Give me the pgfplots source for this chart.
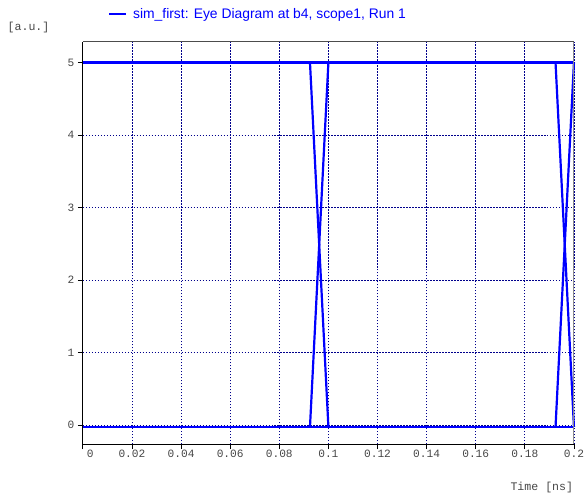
\documentclass[border=0pt]{standalone}
\usepackage{fontspec}
\setmainfont{Liberation Sans}
\setmonofont{Liberation Mono}
\usepackage{pgfplots}
\pgfplotsset{compat=1.18}
\definecolor{eyeblue}{RGB}{0,0,255}
\definecolor{gridnavy}{RGB}{0,0,140}
\definecolor{ticktext}{RGB}{70,70,70}
\begin{document}
\begin{tikzpicture}
\begin{axis}[
  at={(0pt,0pt)}, anchor=south west,
  scale only axis, width=492pt, height=403pt,
  xmin=0, xmax=0.2, ymin=-0.261, ymax=5.285,
  xtick={0,0.02,0.04,0.06,0.08,0.1,0.12,0.14,0.16,0.18,0.2},
  xticklabels={\makebox[0pt][l]{\hspace{4pt}0},0.02,0.04,0.06,0.08,0.1,0.12,0.14,0.16,0.18,0.2},
  ytick={0,1,2,3,4,5},
  xtick pos=left, ytick pos=left,
  /pgf/number format/assume math mode=true,
  grid=major,
  major grid style={gridnavy, line width=0.8pt, dash pattern=on 1.5pt off 1.5pt},
  tick align=outside, major tick length=5pt,
  tick style={black, line width=0.7pt},
  axis line style={draw=none},
  ticklabel style={font=\ttfamily\fontsize{11.2}{12}\selectfont, text=ticktext},
  xticklabel style={inner sep=0pt, yshift=-1pt},
  clip=false,
  legend style={at={(0.0508,1.069)}, anchor=west, draw=none, fill=none, inner sep=0pt,
    font=\fontsize{13.9}{15}\selectfont, text=eyeblue,
    /tikz/every odd column/.append style={column sep=4pt}},
  legend image code/.code={\draw[eyeblue, line width=2.2pt] (0pt,0pt) -- (17pt,0pt);},
]
\addplot[eyeblue, line width=2.2pt] coordinates {(0,5) (0.2,5)};
\addlegendentry{sim\_first: Eye Diagram at b4, scope1, Run 1}
\addplot[eyeblue, line width=2.2pt, forget plot] coordinates {(0,-0.023) (0.2,-0.023)};
\addplot[eyeblue, line width=2.2pt, forget plot] coordinates {(0.0925,5) (0.1,-0.023)};
\addplot[eyeblue, line width=2.2pt, forget plot] coordinates {(0.0925,-0.023) (0.1,5)};
\addplot[eyeblue, line width=2.2pt, forget plot] coordinates {(0.1925,5) (0.2,-0.023)};
\addplot[eyeblue, line width=2.2pt, forget plot] coordinates {(0.1925,-0.023) (0.2,5)};
\draw[black, line width=0.9pt] (rel axis cs:0,0) -- (rel axis cs:0,1);
\draw[black, line width=0.9pt] (rel axis cs:0,0) -- (rel axis cs:1,0);
\draw[black!70, line width=0.9pt] (rel axis cs:0,1) -- (rel axis cs:1,1);
\draw[black!45, line width=0.9pt] (rel axis cs:1,0) -- (rel axis cs:1,1);
\node[anchor=east, inner sep=0pt, text=ticktext, font=\ttfamily\fontsize{11.6}{12}\selectfont] at (axis description cs:0.9986,-0.1067) {Time [ns]};
\node[anchor=west, inner sep=0pt, text=ticktext, font=\ttfamily\fontsize{11.6}{12}\selectfont] at (axis description cs:-0.1535,1.037) {[a.u.]};
\end{axis}
\path[use as bounding box] (-83pt,-52pt) rectangle (501pt,445pt);
\end{tikzpicture}
\end{document}
